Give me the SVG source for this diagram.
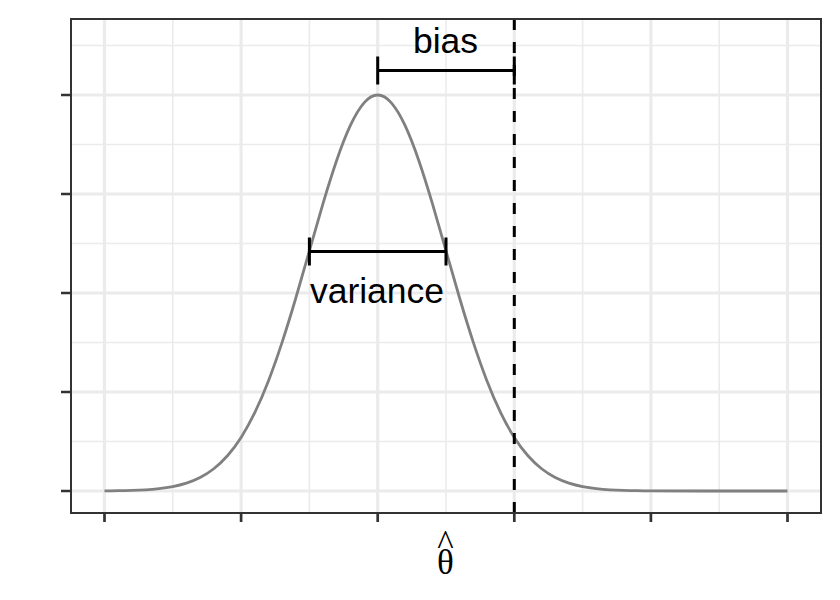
<svg xmlns="http://www.w3.org/2000/svg" width="840" height="600" viewBox="0 0 840 600">
<style>
.major{stroke:#EBEBEB;stroke-width:3.2;fill:none}
.minor{stroke:#EBEBEB;stroke-width:1.6;fill:none}
.tick{stroke:#333333;stroke-width:2.7;fill:none}
.bracket{stroke:#000000;stroke-width:3;fill:none}
.lbl{font-family:"Liberation Sans",Arial,sans-serif;font-size:35.5px;fill:#000000;text-anchor:middle}
.math{font-family:"Liberation Serif","Times New Roman",serif;font-size:35px;fill:#000000;text-anchor:middle}
</style>
<rect x="0" y="0" width="840" height="600" fill="#FFFFFF"/>
<g id="grid">
<path class="minor" d="M71 45.5H821M71 144.5H821M71 243.5H821M71 342.5H821M71 441.5H821M172.8 19V513M309.4 19V513M446 19V513M582.6 19V513M719.2 19V513"/>
<path class="major" d="M71 95H821M71 194H821M71 293H821M71 392H821M71 491H821M104.5 19V513M241.1 19V513M377.7 19V513M514.3 19V513M650.9 19V513M787.5 19V513"/>
</g>
<g id="curve">
<path fill="none" stroke="#808080" stroke-width="2.8" d="M104.5 490.87 C109.05 490.835 113.61 490.783 118.16 490.71 C122.71 490.637 127.27 490.536 131.82 490.39 C136.37 490.244 140.93 490.057 145.48 489.78 C150.03 489.503 154.59 489.135 159.14 488.63 C163.69 488.125 168.25 487.48 172.8 486.6 C177.35 485.72 181.91 484.607 186.46 483.14 C191.01 481.673 195.57 479.857 200.12 477.52 C204.67 475.183 209.23 472.326 213.78 468.77 C218.33 465.214 222.89 460.954 227.44 455.79 C231.99 450.626 236.55 444.546 241.1 437.4 C245.65 430.254 250.21 422.034 254.76 412.63 C259.31 403.226 263.87 392.645 268.42 380.9 C272.97 369.155 277.53 356.251 282.08 342.38 C286.63 328.509 291.19 313.67 295.74 298.25 C300.29 282.83 304.85 266.822 309.4 250.81 C313.95 234.798 318.51 218.776 323.06 203.44 C327.61 188.104 332.17 173.461 336.72 160.23 C341.27 146.999 345.83 135.188 350.38 125.44 C354.93 115.692 359.49 108.015 364.04 102.84 C368.59 97.665 373.15 95 377.7 95 C382.25 95 386.81 97.665 391.36 102.84 C395.91 108.015 400.47 115.692 405.02 125.44 C409.57 135.188 414.13 146.999 418.68 160.23 C423.23 173.461 427.79 188.104 432.34 203.44 C436.89 218.776 441.45 234.798 446 250.81 C450.55 266.822 455.11 282.83 459.66 298.25 C464.21 313.67 468.77 328.509 473.32 342.38 C477.87 356.251 482.43 369.155 486.98 380.9 C491.53 392.645 496.09 403.226 500.64 412.63 C505.19 422.034 509.75 430.254 514.3 437.4 C518.85 444.546 523.41 450.626 527.96 455.79 C532.51 460.954 537.07 465.214 541.62 468.77 C546.17 472.326 550.73 475.183 555.28 477.52 C559.83 479.857 564.39 481.673 568.94 483.14 C573.49 484.607 578.05 485.72 582.6 486.6 C587.15 487.48 591.71 488.125 596.26 488.63 C600.81 489.135 605.37 489.503 609.92 489.78 C614.47 490.057 619.03 490.244 623.58 490.39 C628.13 490.536 632.69 490.637 637.24 490.71 C641.79 490.783 646.35 490.835 650.9 490.87 L700 490.99 L787.5 491"/>
</g>
<g id="connectors">
<line id="truth" x1="514.3" y1="19" x2="514.3" y2="513" stroke="#000000" stroke-width="3" stroke-dasharray="11 12"/>
<path id="bias-bracket" class="bracket" d="M377.7 70.5H514.3M377.7 56.5V84.5M514.3 56.5V84.5"/>
<path id="variance-bracket" class="bracket" d="M309.4 251.5H446M309.4 237.5V265.5M446 237.5V265.5"/>
</g>
<g id="panel">
<rect x="71" y="19" width="750" height="494" fill="none" stroke="#333333" stroke-width="2"/>
<path class="tick" d="M61 95H71M61 194H71M61 293H71M61 392H71M61 491H71M104.5 513V522M241.1 513V522M377.7 513V522M514.3 513V522M650.9 513V522M787.5 513V522"/>
</g>
<g id="bias"><text class="lbl" x="445.5" y="53">bias</text></g>
<g id="variance"><text class="lbl" x="377" y="303">variance</text></g>
<g id="xlabel">
<text class="math" x="445.5" y="574"><tspan x="445.5" y="574">θ</tspan><tspan x="445.5" y="555">^</tspan></text>
</g>
</svg>
